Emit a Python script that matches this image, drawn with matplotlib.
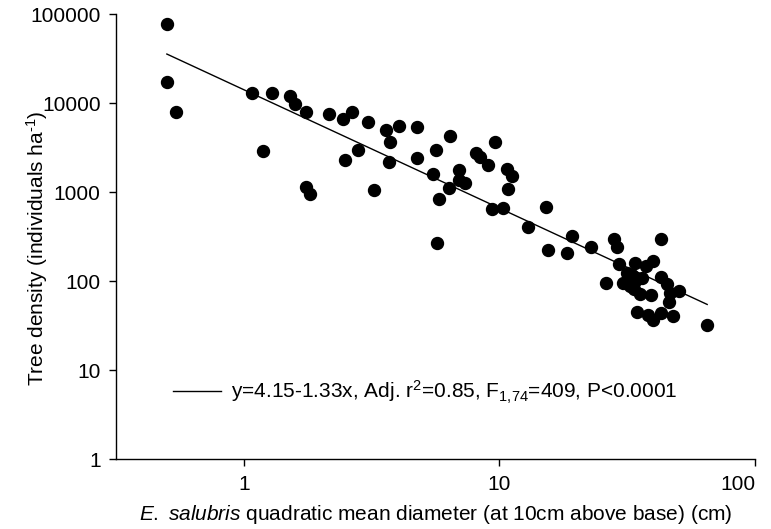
import numpy as np
import matplotlib.pyplot as plt
from matplotlib.lines import Line2D

plt.rcParams.update({
    'font.family': ['Liberation Sans', 'DejaVu Sans'],
    'font.size': 15,
    'mathtext.fontset': 'custom',
    'mathtext.rm': 'Liberation Sans',
    'mathtext.it': 'Liberation Sans:italic',
    'mathtext.bf': 'Liberation Sans:bold',
    'axes.linewidth': 1.0,
})

# quadratic mean diameter (cm) and tree density (individuals/ha)
diameter = [0.50, 0.50, 0.545, 1.08, 1.295, 1.52, 1.58, 1.19, 1.756, 2.16,
            2.44, 2.65, 2.49, 1.756, 1.81, 3.07, 3.60, 4.05, 4.74, 6.40,
            3.73, 2.79, 3.70, 4.74, 5.66, 9.63, 8.07, 8.39, 9.02, 10.7,
            11.2, 5.49, 6.92, 6.92, 7.33, 6.33, 10.8, 5.80, 9.32, 10.3,
            15.2, 12.9, 3.23, 5.68, 15.5, 19.2, 18.4, 22.9, 28.0, 28.9,
            43.0, 29.4, 33.9, 37.3, 39.9, 31.5, 26.2, 30.5, 33.9, 33.7,
            35.5, 39.1, 42.7, 45.4, 46.5, 50.4, 46.1, 34.5, 38.0, 40.0,
            42.9, 47.6, 64.7, 32.9, 36.0, 32.5]
density = [76700, 17400, 7840, 12980, 13000, 11900, 9850, 2910, 8000, 7480,
           6630, 7880, 2285, 1133, 953, 6180, 4990, 5530, 5350, 4270,
           3690, 2970, 2180, 2400, 2970, 3690, 2730, 2500, 2020, 1830,
           1530, 1600, 1760, 1370, 1257, 1113, 1076, 838, 652, 664,
           687, 406, 1057, 267, 224, 322, 209, 242, 298, 240,
           296, 156, 159, 149, 170, 125, 94.7, 94.7, 100.5, 81.1,
           71.8, 69.5, 112, 93, 73.1, 77.6, 58.9, 45.4, 41.7, 36.7,
           43.6, 41.0, 32.2, 117, 108, 88]

x_ticks = [1, 10, 100]
y_ticks = [1, 10, 100, 1000, 10000, 100000]

# fitted log-log regression: log10(y) = a + b*log10(x)
fit_a, fit_b = 4.15, -1.33
fit_x = np.array([0.5, 65.0])
fit_y = 10 ** (fit_a + fit_b * np.log10(fit_x))

fig = plt.figure(figsize=(7.71, 5.29), dpi=100)
ax = fig.add_axes([116/771, 1 - 459.3/529, (755-116)/771, (459.3-14)/529])

ax.plot(fit_x, fit_y, color='black', lw=1.0, zorder=2)
ax.plot(diameter, density, 'o', color='black', ms=8.6, mec='black', zorder=3)

ax.set_xscale('log')
ax.set_yscale('log')
ax.set_xlim(10 ** -0.5, 100)
ax.set_ylim(1, 100000)
ax.set_xticks(x_ticks)
ax.set_xticklabels([str(t) for t in x_ticks])
ax.set_yticks(y_ticks)
ax.set_yticklabels([str(t) for t in y_ticks])
ax.minorticks_off()
ax.tick_params(axis='both', direction='out', length=5, width=1.0, pad=6)
# last x label sits flush with the right end, as in the original
ax.get_xticklabels()[-1].set_horizontalalignment('right')

ax.spines['top'].set_visible(False)
ax.spines['right'].set_visible(False)

ax.set_xlabel(r'$\mathit{E.}$ $\mathit{salubris}$ quadratic mean diameter (at 10cm above base) (cm)',
              labelpad=7)
ax.set_ylabel(r'Tree density (individuals ha$^{\text{-}1}$)')
ax.yaxis.set_label_coords(-0.103, 0.4745)

handle = Line2D([], [], color='black', lw=1.0)
ax.legend([handle],
          [r'y=4.15-1.33x, Adj. r$^{2}$=0.85, F$_{1{,}74}$=409, P<0.0001'],
          loc='center left', bbox_to_anchor=((173-116)/639, (459.3-392)/445.3),
          frameon=False, borderpad=0, borderaxespad=0,
          handlelength=2.3, handletextpad=0.5, fontsize=15)

fig.savefig('out.png', dpi=100)
